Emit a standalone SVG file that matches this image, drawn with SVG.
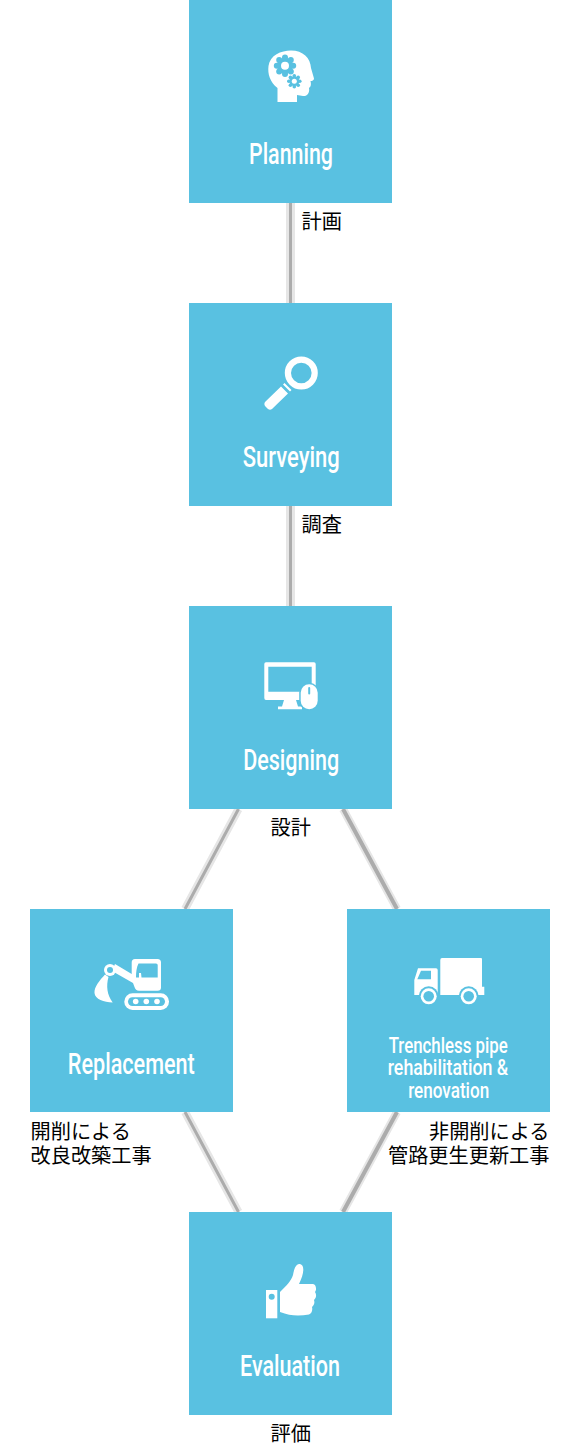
<svg xmlns="http://www.w3.org/2000/svg" width="580" height="1445" viewBox="0 0 580 1445">
<style>
.box{fill:#59c1e1}
.halo{stroke:#e6e6e6;stroke-width:9;fill:none}
.halod{stroke:#e6e6e6;stroke-width:8;fill:none}
.core{stroke:#acacac;stroke-width:3;fill:none}
.thick{stroke:#acacac;stroke-width:4;fill:none}
.t{font-family:Roboto,"Liberation Sans",sans-serif;font-weight:500;fill:#fff;text-anchor:middle;font-size:30px}
.s{font-size:22px}
.j{font-family:"Noto Sans CJK JP",sans-serif;font-size:20.200px;font-weight:400;fill:#000}
.i{fill:#fff}
.b{fill:#59c1e1}
</style>
<rect width="580" height="1445" fill="#fff"/>
<g id="connectors">
<path class="halo" d="M290.500 203V303M290.500 506V606"/>
<path class="halod" d="M238.500 809L185 909M343 809L397 909M185 1112L238.500 1212M397 1112L343 1212"/>
<path class="core" d="M290.500 203V303M290.500 506V606M238.500 809L185 909M185 1112L238.500 1212"/>
<path class="thick" d="M343 809L397 909M397 1112L343 1212"/>
</g>
<g id="planning"><rect class="box" x="189" y="0" width="203" height="203"/>
<path class="i" d="M277.500 102V88C270 82 267.500 74 268.500 66C270 55 281 50.500 291 50.500C303 50.500 310.500 58 311 68L314 78.500C314 80.500 312 81 310.500 81C311.500 85 310.500 87 309 88C310 93 307 96.500 303 96L297 95V102Z"/>
<g class="b"><circle cx="285" cy="65.700" r="8"/><circle cx="285" cy="57.500" r="3"/><circle cx="285" cy="74" r="3"/><circle cx="276.800" cy="65.700" r="3"/><circle cx="293.200" cy="65.700" r="3"/><circle cx="279.200" cy="59.900" r="3"/><circle cx="290.800" cy="59.900" r="3"/><circle cx="279.200" cy="71.500" r="3"/><circle cx="290.800" cy="71.500" r="3"/>
<circle cx="294.300" cy="81.300" r="5"/><circle cx="294.300" cy="75.800" r="1.800"/><circle cx="294.300" cy="86.800" r="1.800"/><circle cx="288.800" cy="81.300" r="1.800"/><circle cx="299.800" cy="81.300" r="1.800"/><circle cx="290.400" cy="77.400" r="1.800"/><circle cx="298.200" cy="77.400" r="1.800"/><circle cx="290.400" cy="85.200" r="1.800"/><circle cx="298.200" cy="85.200" r="1.800"/></g>
<circle class="i" cx="285" cy="65.700" r="4"/><circle class="i" cx="294.300" cy="81.300" r="2.500"/>
<text class="t" x="291" y="164" textLength="84" lengthAdjust="spacingAndGlyphs">Planning</text></g>
<g id="surveying"><rect class="box" x="189" y="303" width="203" height="203"/>
<circle cx="301.300" cy="373" r="13.400" fill="none" stroke="#fff" stroke-width="6.200"/>
<path class="i" d="M265.500 401.500L281 386.500L288 393.500L272 409Q270 410.500 268 409L265 406Q263.500 403.500 265.500 401.500ZM283 384.500L284.500 383L291.500 390L290 391.500Z"/>
<text class="t" x="291.300" y="467" textLength="97" lengthAdjust="spacingAndGlyphs">Surveying</text></g>
<g id="designing"><rect class="box" x="189" y="606" width="203" height="203"/>
<path class="i" fill-rule="evenodd" d="M266 662.300H314Q315.700 662.300 315.700 664V698Q315.700 700 314 700H266Q264.300 700 264.300 698V664Q264.300 662.300 266 662.300ZM268.300 666.700V691.700H311.700V666.700Z"/>
<path class="i" d="M284 700H296L298 706.500H302V709.300H278V706.500H282Z"/>
<rect class="b" x="299.200" y="682.800" width="20" height="28" rx="10"/>
<rect class="i" x="300.700" y="684.300" width="17" height="25" rx="8.500"/><rect class="b" x="308.200" y="687" width="2" height="7.500" rx="1"/>
<text class="t" x="291.200" y="770" textLength="96" lengthAdjust="spacingAndGlyphs">Designing</text></g>
<g id="replacement"><rect class="box" x="30" y="909" width="203" height="203"/>
<path class="i" d="M135 959H157.500Q161 959 161 962.500V987.500Q161 990.700 157.500 990.700H139Q135.500 990.700 134.500 987L133 983L112 971L115 964L131.700 974V962.500Q131.700 959 135 959Z"/>
<path class="b" d="M138.500 963.500H156Q157.700 963.500 157.700 965V977.500H141.500L141 973H139V977.500H136C136 972 136.500 967.500 138.500 963.500Z"/>
<path class="i" d="M105 974.500C100 980 94 987 94.500 993C95 999 104 1002.500 112.700 1002.500C107 995 106 986 108.500 977Z"/>
<circle class="i" cx="110" cy="970" r="6"/><circle class="b" cx="110" cy="970" r="3"/>
<rect class="i" x="124.300" y="993.300" width="44.700" height="16.700" rx="8.300"/><rect class="b" x="128" y="997.300" width="37" height="8.600" rx="4.300"/>
<circle class="i" cx="135.700" cy="1001.500" r="2.800"/><circle class="i" cx="146.300" cy="1001.500" r="2.800"/><circle class="i" cx="157" cy="1001.500" r="2.800"/>
<text class="t" x="131.300" y="1074" textLength="127" lengthAdjust="spacingAndGlyphs">Replacement</text></g>
<g id="trenchless"><rect class="box" x="347" y="909" width="203" height="203"/>
<path class="i" d="M442 958H481Q482 958 482 959V986.700H484.300V995H440.300V960Q440.300 958 442 958Z"/>
<path class="i" fill-rule="evenodd" d="M418 968.300H436Q437.700 968.300 437.700 970V995H414.300V980ZM421 970.700L417.300 979.300H431V970.700Z"/>
<circle class="b" cx="428.700" cy="996.300" r="10"/><circle class="i" cx="428.700" cy="996.300" r="8"/><circle class="b" cx="428.700" cy="996.300" r="5.300"/>
<circle class="b" cx="468.700" cy="996.300" r="10"/><circle class="i" cx="468.700" cy="996.300" r="8"/><circle class="b" cx="468.700" cy="996.300" r="5.300"/>
<text class="t s" x="448.200" y="1053" textLength="119" lengthAdjust="spacingAndGlyphs">Trenchless pipe</text>
<text class="t s" x="448" y="1075" textLength="120.500" lengthAdjust="spacingAndGlyphs">rehabilitation &amp;</text>
<text class="t s" x="448.700" y="1098" textLength="81" lengthAdjust="spacingAndGlyphs">renovation</text></g>
<g id="evaluation"><rect class="box" x="189" y="1212" width="203" height="203"/>
<rect class="i" x="266" y="1290" width="11.300" height="28.300"/>
<circle class="b" cx="271.700" cy="1296.700" r="3"/>
<path class="i" d="M280 1292C287 1285 291 1281 293 1275C294 1269 296 1263 300 1264C305 1265 304 1274 299 1284H313C316 1284 317 1290 315 1292C317 1295 316 1298 314 1300C315 1303 314 1305 312 1307C313 1311 311 1314 309 1314.500C299 1316 290 1316 280 1312Z"/>
<text class="t" x="290" y="1376" textLength="100" lengthAdjust="spacingAndGlyphs">Evaluation</text></g>
<g id="labels">
<text class="j" x="301.500" y="229">計画</text>
<text class="j" x="301.500" y="532">調査</text>
<text class="j" x="270.500" y="835">設計</text>
<text class="j" x="30.500" y="1138.500">開削による</text>
<text class="j" x="30.500" y="1162.500">改良改築工事</text>
<text class="j" x="549.500" y="1138.500" text-anchor="end">非開削による</text>
<text class="j" x="549.500" y="1162.500" text-anchor="end">管路更生更新工事</text>
<text class="j" x="270.500" y="1441">評価</text>
</g>
</svg>
